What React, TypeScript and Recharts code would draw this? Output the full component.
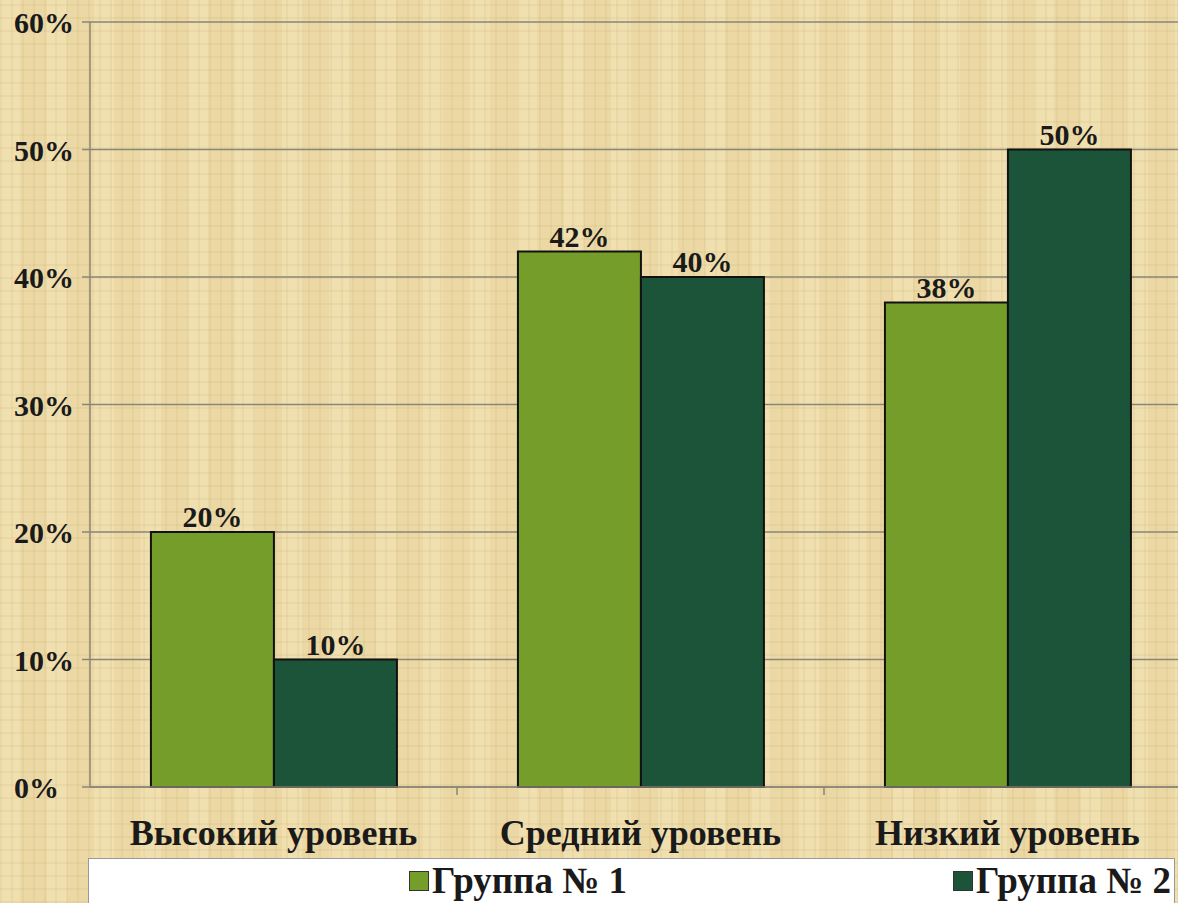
import { BarChart, Bar, XAxis, YAxis, CartesianGrid, LabelList } from 'recharts'

const categories = ['Высокий уровень', 'Средний уровень', 'Низкий уровень']
const group1 = [20, 42, 38]
const group2 = [10, 40, 50]
const seriesNames = ['Группа № 1', 'Группа № 2']
const yTicks = [0, 10, 20, 30, 40, 50, 60]

const colors = ['#759d2a', '#1c5439']
const font = '"Liberation Serif", "Times New Roman", serif'

const data = categories.map((name, i) => ({ name, g1: group1[i], g2: group2[i] }))

const paper =
  'repeating-linear-gradient(90deg, rgba(180,150,90,0.10) 0px, rgba(180,150,90,0.10) 2px, transparent 2px, transparent 11px),' +
  'repeating-linear-gradient(0deg, rgba(180,150,90,0.10) 0px, rgba(180,150,90,0.10) 2px, transparent 2px, transparent 13px),' +
  'repeating-linear-gradient(90deg, rgba(255,245,210,0.25) 0px, rgba(255,245,210,0.25) 20px, transparent 20px, transparent 47px),' +
  '#ebd8a4'

function YTick(props: any) {
  const { y, payload } = props
  return (
    <text x={14} y={y} dy={11} textAnchor="start" fontFamily={font} fontWeight="bold" fontSize={30} fill="#1a1a1a">
      {payload.value}%
    </text>
  )
}

function XTick(props: any) {
  const { x, y, payload } = props
  const off = payload.offset ?? 0
  return (
    <g>
      {off > 0 && <line x1={x + off} x2={x + off} y1={y - 8} y2={y} stroke="#8a8677" strokeWidth={1.5} />}
      <text x={x} y={y} dy={50} textAnchor="middle" fontFamily={font} fontWeight="bold" fontSize={36} fill="#1a1a1a">
        {payload.value}
      </text>
    </g>
  )
}

const labelStyle = { fontFamily: font, fontWeight: 'bold', fontSize: 30, fill: '#1a1a1a' }

export default function App() {
  return (
    <div
      style={{
        position: 'absolute',
        left: 0,
        top: 0,
        width: 1178,
        height: 903,
        overflow: 'hidden',
        background: paper
      }}
    >
      <BarChart
        width={1195}
        height={903}
        data={data}
        margin={{ top: 22, right: 4, left: 0, bottom: 66 }}
        barCategoryGap="16.6%"
        barGap={0}
      >
        <CartesianGrid vertical={false} stroke="#8a8677" strokeWidth={1.5} />
        <YAxis
          width={90}
          domain={[0, 60]}
          ticks={yTicks}
          interval={0}
          axisLine={{ stroke: '#8a8677', strokeWidth: 1.5 }}
          tickLine={{ stroke: '#8a8677', strokeWidth: 1.5 }}
          tickSize={8}
          tick={<YTick />}
        />
        <XAxis
          dataKey="name"
          height={50}
          axisLine={{ stroke: '#8a8677', strokeWidth: 1.5 }}
          tickLine={false}
          tick={<XTick />}
          interval={0}
        />
        <Bar dataKey="g1" name={seriesNames[0]} fill={colors[0]} stroke="#111" strokeWidth={2} isAnimationActive={false}>
          <LabelList dataKey="g1" position="top" offset={5} formatter={(v: any) => `${v}%`} style={labelStyle} />
        </Bar>
        <Bar dataKey="g2" name={seriesNames[1]} fill={colors[1]} stroke="#111" strokeWidth={2} isAnimationActive={false}>
          <LabelList dataKey="g2" position="top" offset={5} formatter={(v: any) => `${v}%`} style={labelStyle} />
        </Bar>
      </BarChart>
      <div
        style={{
          position: 'absolute',
          left: 88,
          top: 858,
          width: 1087,
          height: 60,
          background: '#fff',
          border: '1px solid #9a9a9a',
          boxSizing: 'border-box',
          overflow: 'hidden',
          fontFamily: font,
          fontWeight: 'bold',
          fontSize: 37,
          lineHeight: '40px',
          color: '#1a1a1a'
        }}
      >
        {seriesNames.map((n, i) => (
          <div
            key={n}
            style={{
              position: 'absolute',
              left: i === 0 ? 320 : 864,
              top: 2,
              display: 'flex',
              alignItems: 'center',
              whiteSpace: 'nowrap'
            }}
          >
            <span
              style={{
                display: 'inline-block',
                width: 18,
                height: 18,
                background: colors[i],
                border: '1px solid #333',
                marginRight: 3
              }}
            />
            {n}
          </div>
        ))}
      </div>
    </div>
  )
}
